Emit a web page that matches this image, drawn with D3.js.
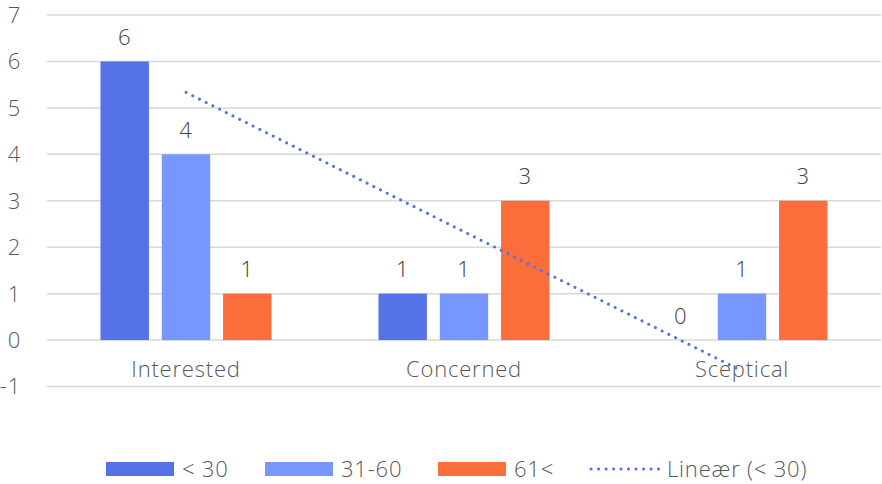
<!DOCTYPE html>
<html><head><meta charset="utf-8">
<script src="https://cdn.jsdelivr.net/npm/d3@7"></script>
<style>body{margin:0;background:#fff}svg{display:block;font-family:"Open Sans",Lato,sans-serif;font-weight:300;letter-spacing:0.8px}</style>
</head><body><svg id="c" width="882" height="484"></svg>
<script>
const categories = ["Interested", "Concerned", "Sceptical"];
const seriesNames = ["< 30", "31-60", "61<"];
const under30 = [6, 1, 0];
const mid = [4, 1, 1];
const over60 = [1, 3, 3];
const yTicks = [-1, 0, 1, 2, 3, 4, 5, 6, 7];
const trendName = "Lineær (< 30)";
const colors = ["#5573E6", "#7896FF", "#FB6E3C"];

const series = [under30, mid, over60];
const svg = d3.select("#c");
const x0 = 47, x1 = 881;
const fs = 22;
const y = d3.scaleLinear().domain([-1, 7]).range([386.5, 15]);
const x = d3.scaleBand().domain(categories).range([x0, x1]).paddingInner(0).paddingOuter(0);
const groupW = 171;
const inner = d3.scaleBand().domain(seriesNames).range([0, groupW]).paddingInner(0.21).paddingOuter(0);
const groupOff = (x.bandwidth() - groupW) / 2;

// gridlines
svg.append("g").selectAll("line").data(yTicks).join("line")
  .attr("x1", x0).attr("x2", x1)
  .attr("y1", d => y(d)).attr("y2", d => y(d))
  .attr("stroke", "#d9d9d9").attr("stroke-width", 1.5);

// y labels
svg.append("g").selectAll("text").data(yTicks).join("text")
  .attr("x", 21).attr("y", d => y(d)).attr("dy", "0.36em")
  .attr("text-anchor", "end").attr("font-size", fs).attr("fill", "#595959")
  .text(d => d);

// bars
series.forEach((vals, si) => {
  const g = svg.append("g");
  g.selectAll("rect").data(vals).join("rect")
    .attr("x", (d, i) => x(categories[i]) + groupOff + inner(seriesNames[si]))
    .attr("width", inner.bandwidth())
    .attr("y", d => y(Math.max(d, 0)))
    .attr("height", d => Math.abs(y(d) - y(0)))
    .attr("fill", colors[si]);
  g.selectAll("text").data(vals).join("text")
    .attr("x", (d, i) => x(categories[i]) + groupOff + inner(seriesNames[si]) + inner.bandwidth() / 2)
    .attr("y", d => y(Math.max(d, 0)) - 16.5)
    .attr("text-anchor", "middle").attr("font-size", fs).attr("fill", "#404040")
    .text(d => d);
});

// category labels
svg.append("g").selectAll("text").data(categories).join("text")
  .attr("x", d => x(d) + x.bandwidth() / 2).attr("y", 377)
  .attr("text-anchor", "middle").attr("font-size", fs).attr("fill", "#595959")
  .text(d => d);

// linear trend for < 30 (least squares)
const xs = under30.map((d, i) => i + 1);
const mx = d3.mean(xs), my = d3.mean(under30);
const slope = d3.sum(xs.map((xv, i) => (xv - mx) * (under30[i] - my))) / d3.sum(xs.map(xv => (xv - mx) ** 2));
const icpt = my - slope * mx;
const cx = i => x(categories[i]) + x.bandwidth() / 2;
svg.append("line")
  .attr("x1", cx(0)).attr("y1", y(icpt + slope * 1))
  .attr("x2", cx(2)).attr("y2", y(icpt + slope * 3))
  .attr("stroke", "#5573E6").attr("stroke-width", 3)
  .attr("stroke-linecap", "round").attr("stroke-dasharray", "0.1 7.4");

// legend
const leg = svg.append("g");
const legX = [106, 265, 438];
seriesNames.forEach((n, i) => {
  leg.append("rect").attr("x", legX[i]).attr("y", 462).attr("width", 68).attr("height", 14).attr("fill", colors[i]);
  leg.append("text").attr("x", legX[i] + 76).attr("y", 469).attr("dy", "0.36em")
    .attr("font-size", fs).attr("fill", "#595959").text(n);
});
leg.append("line").attr("x1", 591).attr("x2", 660).attr("y1", 469).attr("y2", 469)
  .attr("stroke", "#5573E6").attr("stroke-width", 3).attr("stroke-linecap", "round").attr("stroke-dasharray", "0.1 7.4");
leg.append("text").attr("x", 667).attr("y", 469).attr("dy", "0.36em")
  .attr("font-size", fs).attr("fill", "#595959").text(trendName);
</script></body></html>
